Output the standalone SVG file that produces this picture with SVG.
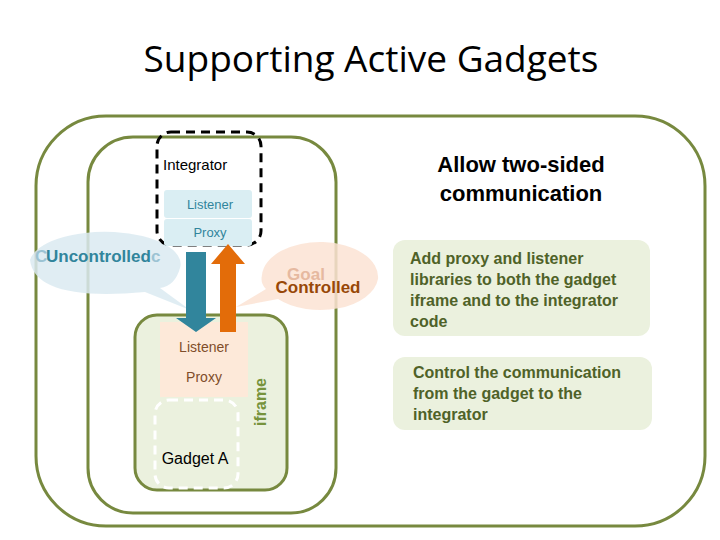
<svg xmlns="http://www.w3.org/2000/svg" width="720" height="540" viewBox="0 0 720 540">
<style>
.frame{fill:none;stroke:#77893f;stroke-width:3}
.s{font-family:"Liberation Sans",Arial,sans-serif}
.b{font-family:"Liberation Sans",Arial,sans-serif;font-weight:bold}
.g{fill:#4f6228}
</style>
<rect width="720" height="540" fill="#fff"/>
<text x="371" y="72" text-anchor="middle" font-family="'Open Sans','Noto Sans',sans-serif" font-size="37" fill="#000">Supporting Active Gadgets</text>
<g id="outer"><rect x="36" y="116" width="669" height="410" rx="70" class="frame"/></g>
<g id="inner"><rect x="88" y="137" width="248" height="376" rx="45" class="frame"/></g>
<g id="bubbles">
<path d="M30,260 a75,32 0 1,1 150,8 q-5,18 -20,20 l30,22 l-45,-18 q-110,10 -115,-32z" fill="#daeaf1" opacity="0.85"/>
<path d="M262,275 a58,35 0 1,1 116,4 a58,35 0 0,1 -100,20 l-42,8 l30,-18 q-6,-6 -4,-14z" fill="#fbe3d3" opacity="0.85"/>
<text x="35" y="262" class="b" font-size="17" fill="#9cc3d3">C</text>
<text x="46" y="262" class="b" font-size="17" fill="#31859c">Uncontrolled</text>
<text x="151" y="262" class="b" font-size="17" fill="#9cc3d3">c</text>
<text x="306" y="280" text-anchor="middle" class="b" font-size="17" fill="#e6b9a0">Goal</text>
<text x="318" y="293" text-anchor="middle" class="b" font-size="17" fill="#984807">Controlled</text>
</g>
<g id="integrator">
<rect x="157" y="132" width="104" height="113" rx="14" fill="none" stroke="#000" stroke-width="3" stroke-dasharray="9,6"/>
<text x="163" y="170" class="s" font-size="15" fill="#000">Integrator</text>
<rect x="164" y="190" width="88" height="28" rx="3" fill="#daeef3"/>
<rect x="164" y="219" width="88" height="27" rx="3" fill="#daeef3"/>
<text x="210" y="209" text-anchor="middle" class="s" font-size="13" fill="#31859c">Listener</text>
<text x="210" y="237" text-anchor="middle" class="s" font-size="13" fill="#31859c">Proxy</text>
</g>
<g id="iframe">
<rect x="135" y="315" width="152" height="175" rx="22" fill="#ebf1de" stroke="#77893f" stroke-width="3"/>
<rect x="160" y="322" width="88" height="75" fill="#fde9d9"/>
<text x="204" y="352" text-anchor="middle" class="s" font-size="14" fill="#7f4d2a">Listener</text>
<text x="204" y="382" text-anchor="middle" class="s" font-size="14" fill="#7f4d2a">Proxy</text>
<rect x="155" y="400" width="83" height="88" rx="14" fill="none" stroke="#fff" stroke-width="3" stroke-dasharray="9,6"/>
<text x="195" y="464" text-anchor="middle" class="s" font-size="16" fill="#000">Gadget A</text>
<text transform="translate(266,402) rotate(-90)" text-anchor="middle" class="b" font-size="16" fill="#77933c">iframe</text>
</g>
<g id="connectors">
<path d="M186,252 h20 v66 h10 l-20,14 l-20,-14 h10z" fill="#31859c"/>
<path d="M220,332 v-68 h-9 l17,-20 l17,20 h-9 v68z" fill="#e36c09"/>
</g>
<g id="notes">
<text x="521" y="172" text-anchor="middle" class="b" font-size="22" fill="#000">Allow two-sided</text>
<text x="521" y="201" text-anchor="middle" class="b" font-size="22" fill="#000">communication</text>
<rect x="393" y="240" width="257" height="96" rx="12" fill="#ebf1de"/>
<text class="b g" font-size="16"><tspan x="410" y="264">Add proxy and listener</tspan><tspan x="410" y="285">libraries to both the gadget</tspan><tspan x="410" y="306">iframe and to the integrator</tspan><tspan x="410" y="327">code</tspan></text>
<rect x="393" y="357" width="259" height="73" rx="12" fill="#ebf1de"/>
<text class="b g" font-size="16"><tspan x="413" y="378">Control the communication</tspan><tspan x="413" y="399">from the gadget to the</tspan><tspan x="413" y="420">integrator</tspan></text>
</g>
</svg>
